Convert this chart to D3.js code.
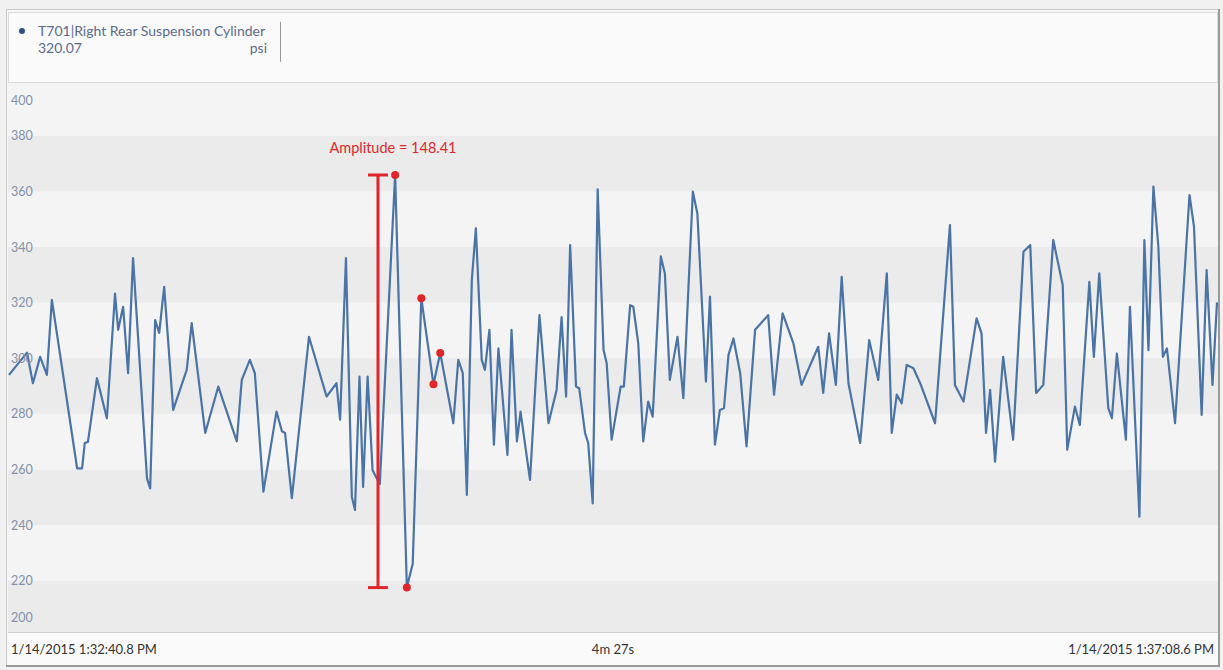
<!DOCTYPE html>
<html>
<head>
<meta charset="utf-8">
<script src="https://cdn.jsdelivr.net/npm/d3@7"></script>
<style>
  html, body { margin: 0; padding: 0; background: #f1f1f1; }
  svg { display: block; font-family: Lato, "Open Sans", sans-serif; }
</style>
</head>
<body>
<svg id="chart" width="1223" height="670"></svg>
<script>
// ---- series description ----
const seriesName = "T701|Right Rear Suspension Cylinder";
const seriesUnit = "psi";
const startLabel = "1/14/2015 1:32:40.8 PM";
const endLabel = "1/14/2015 1:37:08.6 PM";
const spanLabel = "4m 27s";
const spanSeconds = 267.8;

// y tick labels (psi)
const yTicks = [200, 220, 240, 260, 280, 300, 320, 340, 360, 380, 400];

// sample times (seconds after start) and pressures (psi)
const times = [
  0, 4.0, 5.3, 6.9, 8.4, 9.5, 15.1, 16.2, 16.8, 17.5,
  19.5, 21.7, 23.5, 24.2, 25.3, 26.4, 27.5, 30.6, 31.3, 32.4,
  33.3, 34.4, 36.4, 39.4, 40.5, 43.5, 46.4, 50.5, 51.6, 53.4,
  54.5, 56.4, 59.3, 60.5, 61.2, 62.7, 66.5, 70.4, 72.6, 73.4,
  74.7, 76.0, 76.7, 77.7, 78.5, 79.5, 80.6, 82.2, 85.6, 88.2,
  89.5, 91.4, 94.1, 95.6, 98.5, 99.6, 100.6, 101.5, 102.6, 103.5,
  104.8, 105.5, 106.5, 107.5, 108.5, 110.5, 111.4, 112.6, 113.4, 115.5,
  117.6, 119.6, 121.4, 122.5, 123.5, 124.4, 125.7, 126.4, 127.7, 128.4,
  129.4, 130.5, 131.8, 132.5, 133.6, 135.6, 136.3, 137.7, 138.4, 139.5,
  140.6, 141.7, 142.7, 144.5, 145.4, 146.5, 148.2, 149.5, 151.6, 152.6,
  154.5, 155.4, 156.5, 157.6, 158.5, 159.5, 160.6, 162.1, 163.5, 165.4,
  168.3, 169.6, 171.5, 173.9, 175.7, 179.4, 180.5, 181.8, 183.3, 184.6,
  186.1, 188.7, 190.7, 192.7, 194.6, 195.7, 196.8, 197.9, 199.0, 200.5,
  202.0, 205.3, 208.6, 209.7, 211.6, 214.5, 215.6, 216.6, 217.5, 218.6,
  220.4, 222.6, 224.9, 226.4, 227.7, 229.3, 231.5, 233.6, 234.6, 236.3,
  237.4, 239.5, 240.5, 241.7, 243.7, 244.5, 245.6, 247.6, 248.5, 250.6,
  251.7, 252.6, 253.7, 254.8, 255.8, 256.7, 258.5, 261.7, 262.7, 264.4,
  265.5, 266.8, 267.8
];
const values = [
  294.0, 302.0, 291.0, 300.5, 294.0, 321.0, 260.4, 260.4, 269.5, 269.9,
  292.8, 278.4, 323.2, 310.2, 318.5, 294.6, 336.0, 256.7, 253.2, 313.7,
  309.1, 325.7, 281.4, 295.8, 312.6, 273.1, 289.8, 270.1, 292.2, 299.4,
  294.6, 252.0, 280.8, 273.7, 273.1, 249.7, 307.7, 286.2, 291.0, 277.9,
  336.0, 250.2, 245.4, 293.4, 253.7, 293.4, 259.7, 254.7, 365.9, 217.49,
  226.1, 321.6, 290.6, 301.9, 276.6, 299.4, 294.6, 250.8, 328.2, 346.7,
  299.4, 295.8, 310.2, 268.9, 303.5, 265.2, 310.2, 270.1, 280.8, 256.2,
  315.5, 276.6, 288.6, 314.8, 286.2, 340.7, 289.8, 289.2, 273.1, 269.5,
  247.8, 360.7, 303.0, 298.2, 270.7, 289.8, 289.8, 319.1, 318.5, 305.3,
  270.1, 284.4, 279.0, 336.6, 330.5, 292.2, 307.7, 285.6, 359.9, 352.1,
  291.6, 322.2, 268.9, 281.4, 282.0, 301.1, 307.1, 294.6, 268.3, 310.2,
  315.5, 286.9, 316.1, 305.3, 290.4, 304.1, 287.5, 308.9, 290.4, 329.3,
  291.0, 269.5, 306.5, 292.2, 330.5, 273.1, 286.9, 283.8, 297.6, 296.4,
  291.0, 276.6, 347.9, 290.4, 284.4, 314.3, 308.9, 273.1, 288.6, 262.8,
  300.5, 270.7, 338.3, 340.7, 287.5, 290.4, 342.5, 326.3, 267.1, 282.6,
  276.0, 327.5, 300.5, 330.5, 282.0, 278.4, 301.7, 270.7, 318.5, 243.0,
  342.5, 302.9, 361.7, 340.1, 300.5, 303.5, 276.6, 358.7, 347.3, 279.6,
  331.7, 290.4, 320.07
];

// amplitude measurement between the highest and lowest sample of the event
const amplitudeMax = 365.9;
const amplitudeMin = 217.49;
const amplitudeAt = 81.8;                            // seconds, position of the bracket
const markerTimes = [85.6, 88.2, 91.4, 94.1, 95.6];  // highlighted samples

// ---- layout ----
const W = 1223, H = 670;
const plot = { left: 8, right: 1218, top: 84, bottom: 632 };

const svg = d3.select("#chart");

const x = d3.scaleLinear().domain([0, spanSeconds]).range([9, 1217]);
const y = d3.scaleLinear().domain([200, 400]).range([636.2, 80.2]);

// outer panel
svg.append("rect").attr("x", 0).attr("y", 0).attr("width", W).attr("height", H).attr("fill", "#f1f1f1");
svg.append("rect")
  .attr("x", 6.5).attr("y", 9.5).attr("width", 1212).attr("height", 656)
  .attr("fill", "#f6f6f6").attr("stroke", "#c9c9c9");

// header with legend
svg.append("rect")
  .attr("x", 8.5).attr("y", 12.5).attr("width", 1209).attr("height", 70)
  .attr("fill", "#fafafa").attr("stroke", "#dadada");

const legend = svg.append("g").attr("fill", "#5b6b88").style("font-size", "14px");
legend.append("circle").attr("cx", 22).attr("cy", 31).attr("r", 3).attr("fill", "#2f4f7f");
legend.append("text").attr("x", 38).attr("y", 36).text(seriesName);
legend.append("text").attr("x", 38).attr("y", 53).text(values[values.length - 1].toFixed(2));
legend.append("text").attr("x", 267).attr("y", 53).attr("text-anchor", "end").text(seriesUnit);
svg.append("line").attr("x1", 280.5).attr("x2", 280.5).attr("y1", 22).attr("y2", 62)
  .attr("stroke", "#9a9a9a").attr("stroke-width", 1);

// plot background bands, 20 psi each
const clip = svg.append("defs").append("clipPath").attr("id", "plotClip");
clip.append("rect").attr("x", plot.left).attr("y", plot.top)
  .attr("width", plot.right - plot.left).attr("height", plot.bottom - plot.top);

const gPlot = svg.append("g").attr("clip-path", "url(#plotClip)");
gPlot.append("rect").attr("x", plot.left).attr("y", plot.top)
  .attr("width", plot.right - plot.left).attr("height", plot.bottom - plot.top)
  .attr("fill", "#f4f4f4");
gPlot.selectAll("rect.band")
  .data(d3.range(160, 420, 20))
  .join("rect")
  .attr("class", "band")
  .attr("x", plot.left)
  .attr("width", plot.right - plot.left)
  .attr("y", d => y(d + 20))
  .attr("height", d => y(d) - y(d + 20))
  .attr("fill", d => (d / 20) % 2 === 0 ? "#ebebeb" : "#f4f4f4");

// y tick labels, kept inside the plot area
svg.append("g")
  .attr("fill", "#8391a8").style("font-size", "12.5px")
  .selectAll("text")
  .data(yTicks)
  .join("text")
  .attr("x", 11)
  .attr("y", d => Math.max(plot.top + 16, Math.min(plot.bottom - 15, y(d))) + 4.5)
  .text(d => d);

// the series line
const points = times.map((t, i) => ({ t, v: values[i] }));
const line = d3.line().x(d => x(d.t)).y(d => y(d.v));
gPlot.append("path")
  .datum(points)
  .attr("d", line)
  .attr("fill", "none")
  .attr("stroke", "#4a73a6")
  .attr("stroke-width", 2.2)
  .attr("stroke-linejoin", "round");

// amplitude bracket
const amp = svg.append("g").attr("stroke", "#e0262b").attr("stroke-width", 3);
const ax = x(amplitudeAt);
amp.append("line").attr("x1", ax).attr("x2", ax).attr("y1", y(amplitudeMax)).attr("y2", y(amplitudeMin));
amp.append("line").attr("x1", ax - 10).attr("x2", ax + 10).attr("y1", y(amplitudeMax)).attr("y2", y(amplitudeMax));
amp.append("line").attr("x1", ax - 10).attr("x2", ax + 10).attr("y1", y(amplitudeMin)).attr("y2", y(amplitudeMin));
svg.append("text")
  .attr("x", ax + 15).attr("y", y(amplitudeMax) - 22)
  .attr("text-anchor", "middle")
  .attr("fill", "#e0262b").style("font-size", "14.5px")
  .text("Amplitude = " + (amplitudeMax - amplitudeMin).toFixed(2));

// highlighted samples
svg.append("g").selectAll("circle")
  .data(markerTimes.map(t => points.find(p => p.t === t)))
  .join("circle")
  .attr("cx", d => x(d.t)).attr("cy", d => y(d.v)).attr("r", 4)
  .attr("fill", "#e0262b");

// time bar
svg.append("line").attr("x1", plot.left).attr("x2", plot.right)
  .attr("y1", plot.bottom + 0.5).attr("y2", plot.bottom + 0.5).attr("stroke", "#cfcfcf");
svg.append("rect").attr("x", plot.left).attr("y", plot.bottom + 1)
  .attr("width", plot.right - plot.left).attr("height", 32).attr("fill", "#fafafa");
const tb = svg.append("g").attr("fill", "#333").style("font-size", "13px");
tb.append("text").attr("x", 11).attr("y", 654).text(startLabel);
tb.append("text").attr("x", x(spanSeconds / 2)).attr("y", 654).attr("text-anchor", "middle").text(spanLabel);
tb.append("text").attr("x", 1214).attr("y", 654).attr("text-anchor", "end").text(endLabel);

// right and bottom edge shading of the panel
svg.append("line").attr("x1", 1219).attr("x2", 1219).attr("y1", 9).attr("y2", 666)
  .attr("stroke", "#9b9b9b").attr("stroke-width", 2);
svg.append("line").attr("x1", 6).attr("x2", 1220).attr("y1", 666).attr("y2", 666)
  .attr("stroke", "#9b9b9b").attr("stroke-width", 2);
</script>
</body>
</html>
